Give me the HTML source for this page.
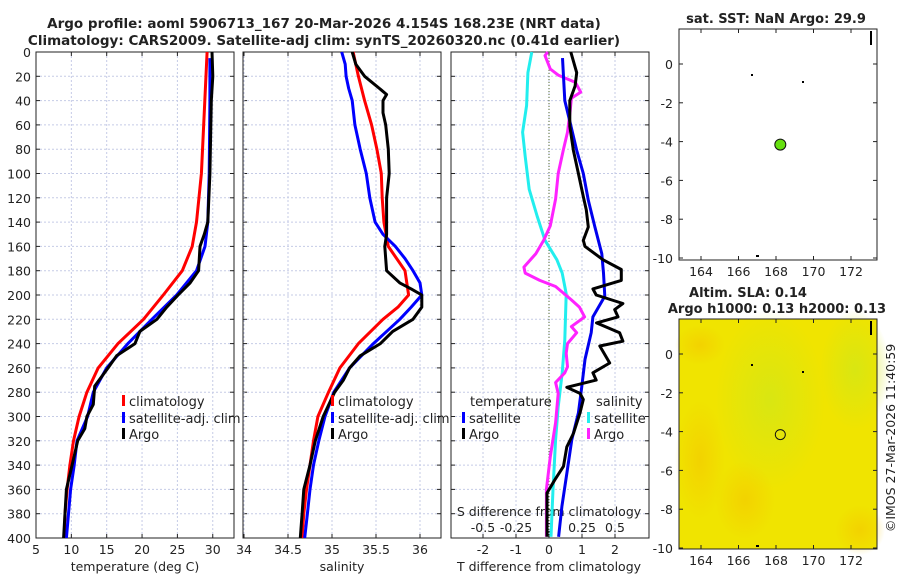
<!DOCTYPE html>
<html><head><meta charset="utf-8">
<style>
html,body{margin:0;padding:0;background:#fff;}
svg{display:block;font-family:"DejaVu Sans","Liberation Sans",sans-serif;}
</style></head>
<body>
<svg id="fig" width="900" height="580" viewBox="0 0 900 580" xmlns="http://www.w3.org/2000/svg">
<defs>
<radialGradient id="g1" cx="50%" cy="50%" r="50%"><stop offset="0" stop-color="#d6e614" stop-opacity="0.9"/><stop offset="1" stop-color="#d6e614" stop-opacity="0"/></radialGradient>
<radialGradient id="g2" cx="50%" cy="50%" r="50%"><stop offset="0" stop-color="#f4c800" stop-opacity="0.9"/><stop offset="1" stop-color="#f4c800" stop-opacity="0"/></radialGradient>
</defs>
<g id="layer"></g>
</svg>
<script>
// ---- depth grid (m) ----
const depthTicks = [0,20,40,60,80,100,120,140,160,180,200,220,240,260,280,300,320,340,360,380,400];
// temperature profiles
const tClimDepth = [0,100,140,160,180,200,220,240,260,280,300,320,340,360,380,400];
const tClim      = [29.2,28.4,27.7,27.1,25.7,23.0,20.2,16.6,13.8,12.2,11.1,10.3,9.8,9.4,9.1,9.0];
const tSatDepth  = [5,40,100,140,160,180,200,220,240,260,280,300,320,340,360,380,400];
const tSat       = [29.6,29.6,29.5,29.3,28.9,27.7,24.9,21.4,18.0,15.0,13.1,12.3,10.8,10.4,9.9,9.6,9.3];
const tArgoDepth = [0,20,40,100,140,150,160,180,190,200,210,220,230,240,250,260,275,290,300,310,320,340,360,380,400];
const tArgo      = [29.9,30.0,29.8,29.6,29.3,28.8,28.2,28.0,26.8,25.1,23.5,22.1,19.7,19.0,16.4,15.2,13.3,13.1,12.2,11.9,10.9,10.1,9.3,9.1,8.9];
// salinity profiles
const sClimDepth = [0,20,40,60,80,100,120,140,160,180,195,200,210,220,240,260,280,300,320,340,360,380,400];
const sClim      = [35.24,35.30,35.37,35.45,35.51,35.56,35.57,35.59,35.64,35.83,35.86,35.87,35.75,35.58,35.30,35.09,34.96,34.84,34.79,34.75,34.71,34.68,34.66];
const sSatDepth  = [0,10,20,30,40,60,80,100,120,140,150,160,170,180,190,200,210,220,240,260,280,300,320,340,360,380,400];
const sSat       = [35.11,35.15,35.16,35.19,35.23,35.26,35.32,35.39,35.43,35.49,35.58,35.72,35.83,35.92,36.00,36.02,35.90,35.77,35.47,35.20,35.02,34.92,34.85,34.79,34.75,34.72,34.69];
const sArgoDepth = [0,10,20,30,35,40,50,60,80,100,120,150,160,170,180,190,195,200,210,220,230,240,250,260,270,280,300,320,340,360,380,400];
const sArgo      = [35.23,35.27,35.37,35.54,35.62,35.58,35.58,35.61,35.64,35.65,35.62,35.62,35.60,35.61,35.62,35.77,35.90,36.02,36.02,35.92,35.69,35.55,35.32,35.20,35.13,35.03,34.90,34.81,34.75,34.68,34.66,34.64];
// differences from climatology
const dTSatDepth = [5,40,58,81,100,122,144,166,182,201,218,231,253,276,297,319,347,374,399];
const dTSat      = [0.41,0.48,0.64,0.84,1.04,1.19,1.39,1.60,1.65,1.69,1.33,1.28,1.09,0.99,0.89,0.69,0.54,0.39,0.29];
const dTArgoDepth = [0,17,28,40,61,81,100,119,130,144,155,160,171,179,188,195,200,207,212,218,223,231,238,242,256,264,270,276,281,286,297,314,325,341,352,363,399];
const dTArgo      = [0.66,0.84,0.79,0.63,0.63,0.74,0.89,1.04,1.13,1.19,1.04,1.09,1.64,2.19,2.19,1.33,1.43,2.24,1.99,2.09,1.44,2.14,2.24,1.54,1.84,1.33,1.43,0.54,0.94,1.04,0.94,0.74,0.54,0.44,0.18,-0.06,-0.06];
const dSSatDepth = [0,17,44,66,86,113,135,155,171,182,199,237,264,292,319,360,399];
const dSSat      = [-0.13,-0.16,-0.17,-0.20,-0.18,-0.15,-0.09,-0.03,0.06,0.10,0.13,0.12,0.10,0.07,0.05,0.03,0.015];
const dSArgoDepth = [0,3,14,19,25,33,38,49,66,80,100,121,143,155,166,177,182,188,193,204,210,218,226,231,240,248,259,264,272,281,305,333,360,399];
const dSArgo      = [-0.01,-0.03,0.01,0.07,0.20,0.24,0.17,0.16,0.14,0.11,0.07,0.05,0.01,-0.04,-0.10,-0.19,-0.18,-0.07,0.05,0.17,0.23,0.27,0.17,0.21,0.14,0.13,0.14,0.12,0.05,0.07,0.05,0.01,-0.02,-0.02];
// tick labels
const tTicks = [5,10,15,20,25,30];
const sTicks = [34,34.5,35,35.5,36];
const dTTicks = [-2,-1,0,1,2];
const dSTicks = [-0.5,-0.25,0,0.25,0.5];
const lonTicks = [164,166,168,170,172];
const latTicks = [0,-2,-4,-6,-8,-10];
const argoLon = [168.23];
const argoLat = [-4.154];

const NS = "http://www.w3.org/2000/svg";
const layer = document.getElementById('layer');
function mk(tag, attrs, parent){
  const e = document.createElementNS(NS, tag);
  for (const k in attrs) e.setAttribute(k, attrs[k]);
  (parent||layer).appendChild(e);
  return e;
}
function txt(s, x, y, size, anchor, weight, parent){
  const e = mk('text', {x:x, y:y, 'font-size':size, 'text-anchor':anchor||'middle', 'font-weight':weight||'normal', fill:'#222'}, parent);
  e.textContent = s;
  return e;
}
const Y0 = 52, Y1 = 538;
const yD = d => Y0 + d * (Y1 - Y0) / 400;
const xT = t => 36 + (t - 5) * 7.07;
const xS = s => 244 + (s - 34) * 88;
const xDT = v => 549 + v * 33;
const xDS = v => 549 + v * 132;

const panels = [
  {name:'temperature-panel', x0:36, x1:234, ticks:tTicks, fx:xT},
  {name:'salinity-panel', x0:243, x1:441, ticks:sTicks, fx:xS},
  {name:'difference-panel', x0:451, x1:649, ticks:dTTicks, fx:xDT}
];
panels.forEach(p=>{
  const g = mk('g', {});
  
  
  depthTicks.forEach(d=>{
    if (d>0 && d<400) mk('line', {x1:p.x0, x2:p.x1, y1:yD(d), y2:yD(d), stroke:'#c5cbe6', 'stroke-width':1, 'stroke-dasharray':'2,2'}, g);
    mk('line', {x1:p.x0, x2:p.x0+4, y1:yD(d), y2:yD(d), stroke:'#222'}, g);
    mk('line', {x1:p.x1-4, x2:p.x1, y1:yD(d), y2:yD(d), stroke:'#222'}, g);
  });
  p.ticks.forEach(v=>{
    const x = p.fx(v);
    mk('line', {x1:x, x2:x, y1:Y0, y2:Y1, stroke:'#c5cbe6', 'stroke-dasharray':'2,2'}, g);
    mk('line', {x1:x, x2:x, y1:Y1-4, y2:Y1, stroke:'#222'}, g);
    mk('line', {x1:x, x2:x, y1:Y0, y2:Y0+4, stroke:'#222'}, g);
    const t = txt(String(v), x, 554, 12.5, 'middle', 'normal', g);
    
    
  });
  mk('rect', {x:p.x0, y:Y0, width:p.x1-p.x0, height:Y1-Y0, fill:'none', stroke:'#222', 'stroke-width':1}, g);
});
depthTicks.forEach(d=>{
  const t = txt(String(d), 31, yD(d)+5, 12.5, 'end');
  
  
});
mk('line', {x1:xDT(0), x2:xDT(0), y1:Y0, y2:Y1, stroke:'#556b2f', 'stroke-dasharray':'1,2'});
dSTicks.forEach(v=>{
  const t = txt(String(v), xDS(v), 532, 12.5);
  
  
});
const sdt = txt('S difference from climatology', 549, 516, 12.5);


const a1 = txt('temperature (deg C)', 135, 571, 12.5);


const a2 = txt('salinity', 342, 571, 12.5);


const a3 = txt('T difference from climatology', 549, 571, 12.5);



function line(depths, vals, fx, color, name){
  const pts = depths.map((d,i)=> fx(vals[i]).toFixed(1)+','+yD(d).toFixed(1)).join(' ');
  const e = mk('polyline', {points:pts, fill:'none', stroke:color, 'stroke-width':3, 'stroke-linejoin':'round'});
  
  
}
line(tClimDepth, tClim, xT, '#ff0000', 'temperature-climatology-line');
line(tSatDepth, tSat, xT, '#0000ff', 'temperature-satellite-line');
line(tArgoDepth, tArgo, xT, '#000000', 'temperature-argo-line');
line(sClimDepth, sClim, xS, '#ff0000', 'salinity-climatology-line');
line(sSatDepth, sSat, xS, '#0000ff', 'salinity-satellite-line');
line(sArgoDepth, sArgo, xS, '#000000', 'salinity-argo-line');
line(dSSatDepth, dSSat, xDS, '#22eeee', 'salinity-satellite-diff-line');
line(dSArgoDepth, dSArgo, xDS, '#ff22ff', 'salinity-argo-diff-line');
line(dTSatDepth, dTSat, xDT, '#0000ee', 'temperature-satellite-diff-line');
line(dTArgoDepth, dTArgo, xDT, '#000000', 'temperature-argo-diff-line');

function legend(x, y, color, label){
  const g = mk('g', {});
  
  
  mk('rect', {x:x, y:y-11, width:3, height:11, fill:color}, g);
  txt(label, x+7, y, 13, 'start', 'normal', g);
}
legend(122,406,'#ff0000','climatology');
legend(122,423,'#0000ff','satellite-adj. clim');
legend(122,439,'#000000','Argo');
legend(331,406,'#ff0000','climatology');
legend(331,423,'#0000ff','satellite-adj. clim');
legend(331,439,'#000000','Argo');
txt('temperature', 470, 406, 13, 'start');
legend(462,423,'#0000ff','satellite');
legend(462,439,'#000000','Argo');
txt('salinity', 596, 406, 13, 'start');
legend(587,423,'#22eeee','satellite');
legend(587,439,'#ff22ff','Argo');

const t1 = txt('Argo profile: aoml 5906713_167 20-Mar-2026 4.154S 168.23E (NRT data)', 324, 28, 13.5, 'middle', 'bold');


const t2 = txt('Climatology: CARS2009. Satellite-adj clim: synTS_20260320.nc (0.41d earlier)', 324, 45, 13.5, 'middle', 'bold');



const xLon = (lon, m) => m.lx + (lon - 164) * 18.75;
const yLat = (lat, m) => m.ly0 + (-lat) * 19.4;
const maps = [
  {name:'sst-map', x0:679, x1:877, y0:29, y1:260, lx:701, ly0:64, fill:'#ffffff'},
  {name:'sla-map', x0:679, x1:877, y0:319, y1:549, lx:701, ly0:354, fill:'#f0e400'}
];
maps.forEach((m,mi)=>{
  const g = mk('g', {});
  
  
  mk('rect', {x:m.x0, y:m.y0, width:m.x1-m.x0, height:m.y1-m.y0, fill:m.fill}, g);
  if (mi===1){
    mk('ellipse', {cx:770, cy:400, rx:55, ry:90, fill:'url(#g1)'}, g);
    mk('ellipse', {cx:855, cy:370, rx:35, ry:60, fill:'url(#g1)'}, g);
    mk('ellipse', {cx:745, cy:500, rx:30, ry:40, fill:'url(#g2)', opacity:0.7}, g);
    mk('ellipse', {cx:700, cy:460, rx:25, ry:60, fill:'url(#g2)', opacity:0.7}, g);
    mk('ellipse', {cx:860, cy:530, rx:25, ry:25, fill:'url(#g2)', opacity:0.7}, g);
    mk('ellipse', {cx:700, cy:345, rx:25, ry:20, fill:'url(#g2)', opacity:0.7}, g);
  }
  lonTicks.forEach(v=>{
    const x = xLon(v, m);
    mk('line', {x1:x, x2:x, y1:m.y1-4, y2:m.y1, stroke:'#222'}, g);
    mk('line', {x1:x, x2:x, y1:m.y0, y2:m.y0+4, stroke:'#222'}, g);
    txt(String(v), x, m.y1+16, 12.5, 'middle', 'normal', g);
  });
  latTicks.forEach(v=>{
    const y = yLat(v, m);
    mk('line', {x1:m.x0, x2:m.x0+4, y1:y, y2:y, stroke:'#222'}, g);
    mk('line', {x1:m.x1-4, x2:m.x1, y1:y, y2:y, stroke:'#222'}, g);
    txt(String(v), m.x0-6, y+5, 12.5, 'end', 'normal', g);
  });
  mk('rect', {x:751, y:m.ly0+10, width:2, height:2, fill:'#000'}, g);
  mk('rect', {x:802, y:m.ly0+17, width:2, height:2, fill:'#000'}, g);
  mk('rect', {x:756, y:m.ly0+191, width:3, height:2, fill:'#000'}, g);
  mk('rect', {x:870, y:m.ly0-33, width:2, height:14, fill:'#000'}, g);
  mk('rect', {x:m.x0, y:m.y0, width:m.x1-m.x0, height:m.y1-m.y0, fill:'none', stroke:'#222'}, g);
  const c = mk('circle', {cx:xLon(argoLon[0], m), cy:yLat(argoLat[0], m), r:mi===0?5.5:5, fill:mi===0?'#66e010':'none', stroke:'#111', 'stroke-width':1}, g);
  
  
});
const m1 = txt('sat. SST: NaN Argo: 29.9', 776, 23, 13, 'middle', 'bold');


const m2 = txt('Altim. SLA: 0.14', 748, 297, 13, 'middle', 'bold');


const m3 = txt('Argo h1000: 0.13 h2000: 0.13', 777, 313, 13, 'middle', 'bold');


const cr = txt('\u00A9IMOS 27-Mar-2026 11:40:59', 0, 0, 12.5, 'middle');
cr.setAttribute('transform', 'translate(895,438) rotate(-90)');


</script>
</body></html>
